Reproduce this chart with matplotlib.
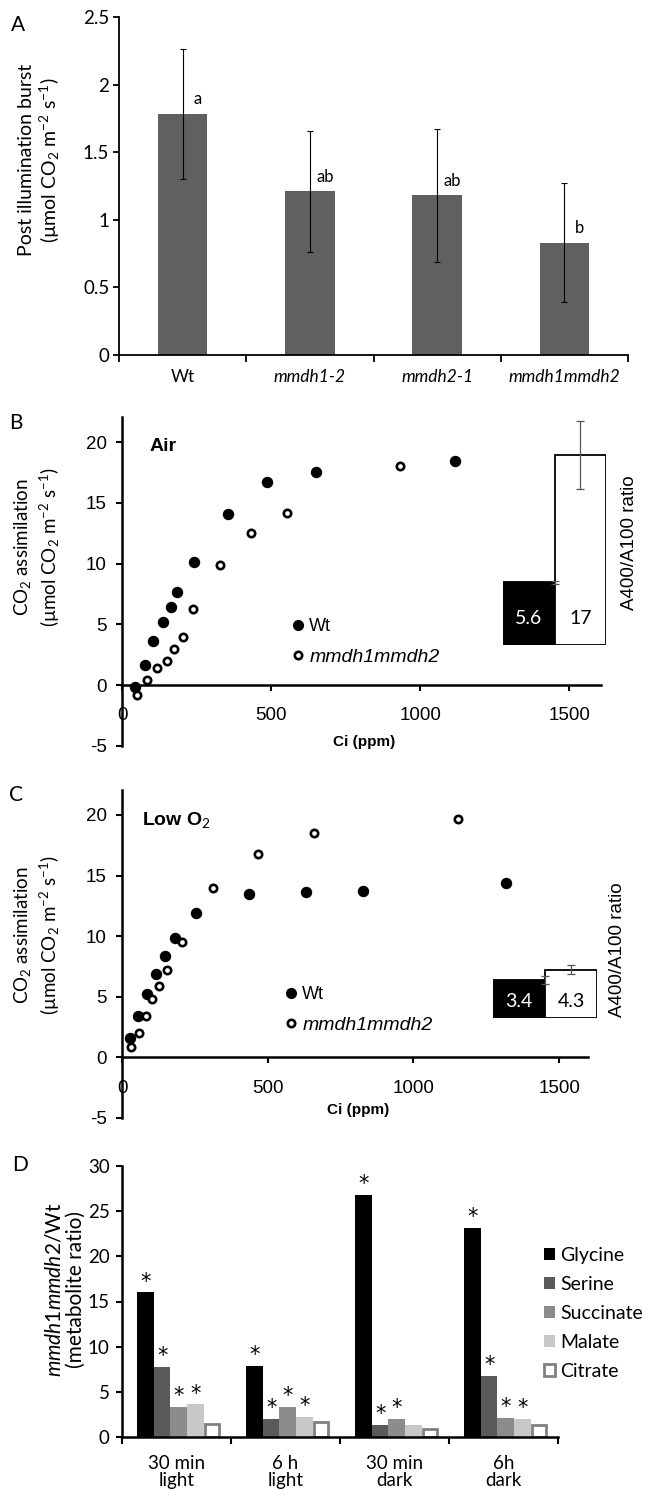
import matplotlib
matplotlib.use('Agg')
import matplotlib.pyplot as plt
from matplotlib.lines import Line2D
import numpy as np

plt.rcParams['font.family'] = ['Lato', 'DejaVu Sans']
plt.rcParams['mathtext.fontset'] = 'custom'
plt.rcParams['mathtext.rm'] = 'Lato'
plt.rcParams['mathtext.it'] = 'Lato:italic'
plt.rcParams['mathtext.bf'] = 'Lato:bold'
plt.rcParams['axes.unicode_minus'] = False

# ---- data ----
# A: post illumination burst
genotypes = ['Wt', 'mmdh1-2', 'mmdh2-1', 'mmdh1mmdh2']
pib = [1.78, 1.21, 1.18, 0.83]
pib_err = [0.48, 0.45, 0.49, 0.44]
pib_letters = ['a', 'ab', 'ab', 'b']

# B: A/Ci in air
air_wt_ci = [42, 76, 104, 138, 165, 185, 240, 354, 486, 650, 1115]
air_wt_a = [-0.14, 1.7, 3.6, 5.2, 6.4, 7.7, 10.1, 14.1, 16.7, 17.5, 18.4]
air_mut_ci = [51, 85, 117, 150, 176, 203, 239, 329, 433, 553, 932]
air_mut_a = [-0.8, 0.4, 1.4, 2.0, 3.0, 4.0, 6.3, 9.9, 12.5, 14.2, 18.0]
air_ratio = [5.6, 17]
air_ratio_err = [0.1, 3.0]

# C: A/Ci in low O2
low_wt_ci = [28, 56, 87, 117, 149, 182, 255, 437, 630, 827, 1317]
low_wt_a = [1.64, 3.4, 5.2, 6.85, 8.4, 9.85, 11.9, 13.45, 13.65, 13.75, 14.4]
low_mut_ci = [32, 59, 83, 104, 128, 155, 206, 313, 466, 659, 1152]
low_mut_a = [0.85, 2.05, 3.4, 4.8, 5.9, 7.2, 9.5, 14.0, 16.8, 18.5, 19.7]
low_ratio = [3.4, 4.3]
low_ratio_err = [0.4, 0.4]

# D: metabolite ratios
conditions = ['30 min\nlight', '6 h\nlight', '30 min\ndark', '6h\ndark']
metabolites = ['Glycine', 'Serine', 'Succinate', 'Malate', 'Citrate']
glycine = [16.0, 7.87, 26.8, 23.1]
serine = [7.76, 2.03, 1.37, 6.72]
succinate = [3.3, 3.3, 2.03, 2.14]
malate = [3.6, 2.2, 1.37, 2.03]
citrate = [1.48, 1.66, 0.9, 1.3]
signif = [[1, 1, 1, 1], [1, 1, 1, 1], [1, 1, 1, 1], [1, 1, 0, 1], [0, 0, 0, 0]]
met_colors = ['#000000', '#5a5a5a', '#8c8c8c', '#c8c8c8', '#ffffff']

W, H = 649, 1491
fig = plt.figure(figsize=(W / 100, H / 100), dpi=100)


def box(left, top, right, bottom):
    return [left / W, 1 - bottom / H, (right - left) / W, (bottom - top) / H]


# ---------------- A ----------------
axA = fig.add_axes(box(119, 17, 628, 355))
xA = np.arange(len(genotypes)) + 0.5
axA.bar(xA, pib, width=0.39, color='#606060', yerr=pib_err,
        error_kw=dict(ecolor='black', elinewidth=0.8, capsize=2.5, capthick=0.8))
for x, v, l in zip(xA, pib, pib_letters):
    axA.text(x + 0.12, v + 0.11, l, ha='center', va='center', fontsize=12)
axA.set_xlim(0, 4)
axA.set_ylim(0, 2.5)
axA.set_xticks(range(5))
axA.set_xticklabels([])
axA.set_xticks(xA, minor=True)
axA.set_xticklabels(genotypes, minor=True, fontsize=12.5)
for lbl in axA.get_xticklabels(minor=True)[1:]:
    lbl.set_style('italic')
axA.tick_params(axis='x', which='minor', length=0, pad=10)
axA.tick_params(axis='x', which='major', length=5, width=1.3)
axA.set_yticks([0, 0.5, 1, 1.5, 2, 2.5])
axA.set_yticklabels(['0', '0.5', '1', '1.5', '2', '2.5'])
axA.tick_params(axis='y', labelsize=13.5, length=4, width=1.3, pad=3)
for s in ['top', 'right']:
    axA.spines[s].set_visible(False)
for s in ['left', 'bottom']:
    axA.spines[s].set_linewidth(1.3)
fig.text(40 / W, 1 - 160 / H,
         'Post illumination burst\n(µmol CO$_2$ m$^{-2}$ s$^{-1}$)',
         rotation=90, ha='center', va='center', fontsize=14, linespacing=1.15)
fig.text(18 / W, 1 - 25 / H, 'A', ha='center', va='center', fontsize=15)


# ---------------- B / C ----------------
def aci_panel(rect, inset_rect, wt_ci, wt_a, mut_ci, mut_a, ratio, ratio_err,
              title, title_pos, ratio_label_x, ratio_label_y, leg_anchor,
              ci_pos, xmax, ratio_text_y):
    ax = fig.add_axes(rect)
    ax.scatter(wt_ci, wt_a, s=52, color='black', zorder=3)
    ax.scatter(mut_ci, mut_a, s=28, facecolor='white', edgecolor='black',
               linewidth=1.9, zorder=3)
    ax.set_xlim(0, xmax)
    ax.set_ylim(-5, 22.06)
    ax.spines['bottom'].set_position(('data', 0))
    for s in ['top', 'right']:
        ax.spines[s].set_visible(False)
    for s in ['left', 'bottom']:
        ax.spines[s].set_linewidth(1.8)
    ax.set_xticks([0, 500, 1000, 1500])
    ax.set_yticks([-5, 0, 5, 10, 15, 20])
    ax.tick_params(axis='x', labelsize=13.5, length=4, width=1.5, pad=12,
                   labelfontfamily='Liberation Sans')
    ax.tick_params(axis='y', labelsize=13.5, length=4, width=1.5, pad=7,
                   labelfontfamily='Liberation Sans')
    ax.text(title_pos[0], title_pos[1], title, transform=ax.transAxes,
            ha='left', va='center', fontsize=14, fontweight='bold',
            family='Liberation Sans')
    ax.text(ci_pos[0], ci_pos[1], 'Ci (ppm)', transform=ax.transAxes,
            ha='center', va='center', fontsize=11, fontweight='bold',
            family='Liberation Sans')
    handles = [Line2D([], [], ls='', marker='o', ms=7, color='black'),
               Line2D([], [], ls='', marker='o', ms=5.3, mfc='white',
                      mec='black', mew=1.9)]
    leg = ax.legend(handles, ['Wt', 'mmdh1mmdh2'], loc='upper left',
                    bbox_to_anchor=leg_anchor, bbox_transform=fig.transFigure,
                    frameon=False, borderpad=0, borderaxespad=0,
                    handlelength=0.6, handletextpad=0.3, labelspacing=0.75,
                    prop={'family': 'Liberation Sans', 'size': 13})
    leg.get_texts()[1].set_style('italic')
    leg.get_texts()[1].set_fontsize(14)

    axi = fig.add_axes(inset_rect)
    axi.bar([0, 1], ratio, width=1, color=['black', 'white'],
            edgecolor='black', linewidth=1.3)
    axi.errorbar([0.5, 1.0], ratio, yerr=ratio_err, fmt='none',
                 ecolor='#555555', elinewidth=0.9, capsize=3, capthick=0.9)
    axi.text(0, ratio_text_y, f'{ratio[0]:g}', color='white', ha='center',
             va='center', fontsize=14)
    axi.text(1, ratio_text_y, f'{ratio[1]:g}', color='black', ha='center',
             va='center', fontsize=14)
    axi.set_xlim(-0.5, 1.5)
    axi.set_ylim(0, 20.4)
    axi.axis('off')
    fig.text(ratio_label_x / W, 1 - ratio_label_y / H, 'A400/A100 ratio',
             rotation=90, ha='center', va='center', fontsize=13.5,
             family='Liberation Sans')
    return ax, axi


axB, axBi = aci_panel(box(122, 417, 601, 746), box(503, 417, 606, 645),
                      air_wt_ci, air_wt_a, air_mut_ci, air_mut_a,
                      air_ratio, air_ratio_err, 'Air', (0.058, 0.909),
                      630, 543, (293 / W, 1 - 618 / H), (0.505, 0.012),
                      1606, 2.4)
fig.text(37 / W, 1 - 547 / H,
         'CO$_2$ assimilation\n(µmol CO$_2$ m$^{-2}$ s$^{-1}$)',
         rotation=90, ha='center', va='center', fontsize=13.5, linespacing=1.3)
fig.text(16 / W, 1 - 423 / H, 'B', ha='center', va='center', fontsize=15)

axC, axCi = aci_panel(box(122, 790, 588, 1118), box(493, 790, 597, 1018),
                      low_wt_ci, low_wt_a, low_mut_ci, low_mut_a,
                      low_ratio, low_ratio_err, 'Low O$_2$', (0.043, 0.909),
                      617, 950, (286 / W, 1 - 986 / H), (0.506, 0.024),
                      1599, 1.5)
fig.text(37 / W, 1 - 935 / H,
         'CO$_2$ assimilation\n(µmol CO$_2$ m$^{-2}$ s$^{-1}$)',
         rotation=90, ha='center', va='center', fontsize=13.5, linespacing=1.3)
fig.text(16 / W, 1 - 795 / H, 'C', ha='center', va='center', fontsize=15)

# ---------------- D ----------------
axD = fig.add_axes(box(122, 1166, 558, 1437))
series = [glycine, serine, succinate, malate, citrate]
xD = np.arange(len(conditions))
bw = 0.152
for i, (vals, col, name, sig) in enumerate(zip(series, met_colors, metabolites, signif)):
    pos = xD + 0.52 + (i - 2) * bw
    if name == 'Citrate':
        axD.bar(pos, vals, width=bw * 0.82, color=col, edgecolor='#808080',
                linewidth=2, label=name)
    else:
        axD.bar(pos, vals, width=bw, color=col, linewidth=0, label=name)
    for p, v, s in zip(pos, vals, sig):
        if s:
            axD.text(p, v + 1.2, '*', ha='center', va='center', fontsize=15,
                     family='DejaVu Sans')
axD.set_xlim(0, 4)
axD.set_ylim(0, 30)
axD.set_xticks(range(5))
axD.set_xticklabels([])
axD.set_xticks(xD + 0.5, minor=True)
axD.set_xticklabels(conditions, minor=True, fontsize=13.5, linespacing=1.0)
axD.tick_params(axis='x', which='minor', length=0, pad=13)
axD.tick_params(axis='x', which='major', length=5, width=1.5)
axD.set_yticks(range(0, 31, 5))
axD.tick_params(axis='y', labelsize=13.5, length=4, width=1.5, pad=5)
for s in ['top', 'right']:
    axD.spines[s].set_visible(False)
for s in ['left', 'bottom']:
    axD.spines[s].set_linewidth(1.8)
legD = axD.legend(loc='upper left', bbox_to_anchor=(544 / W, 1 - 1247 / H),
                  bbox_transform=fig.transFigure, frameon=False, borderpad=0,
                  borderaxespad=0, handlelength=0.55, handleheight=0.55,
                  handletextpad=0.3, labelspacing=0.62, fontsize=14)
fig.text(65 / W, 1 - 1290 / H,
         '$\\mathit{mmdh1mmdh2}$/Wt\n(metabolite ratio)',
         rotation=90, ha='center', va='center', fontsize=15, linespacing=1.05)
fig.text(20 / W, 1 - 1165 / H, 'D', ha='center', va='center', fontsize=15)

fig.savefig('out.png', dpi=100)
